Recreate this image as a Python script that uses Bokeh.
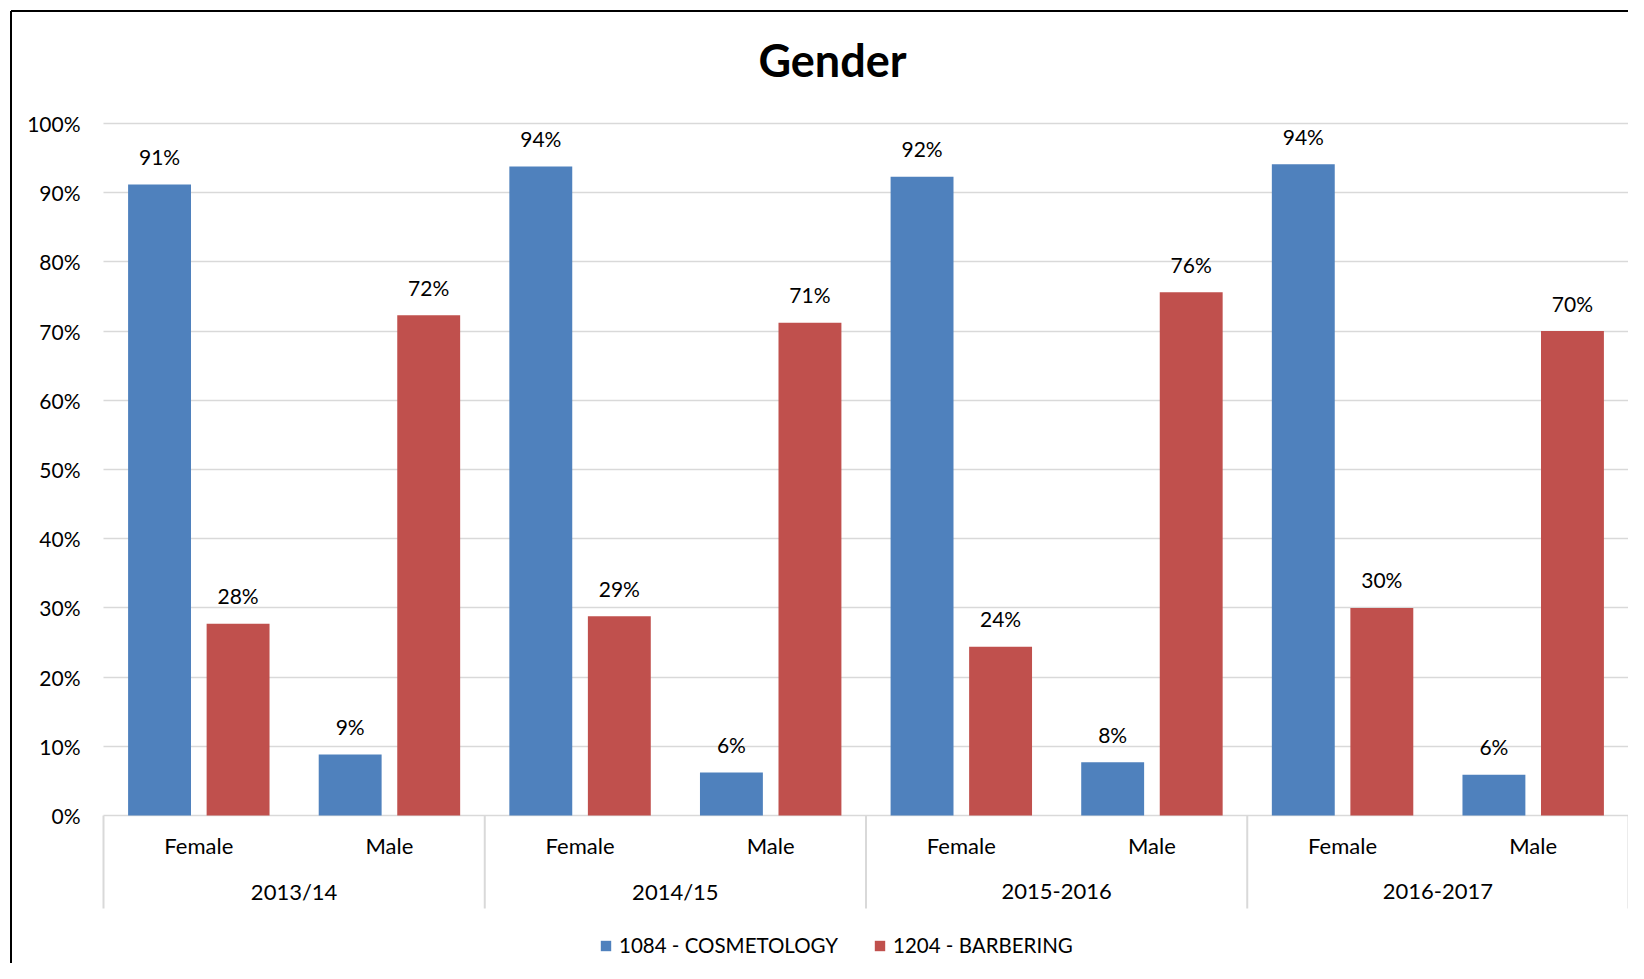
from bokeh.plotting import figure
from bokeh.models import (ColumnDataSource, Range1d, LinearAxis, FixedTicker,
                          NumeralTickFormatter, Grid, Legend, LegendItem, Label)
from bokeh.core.properties import value
from bokeh.embed import file_html
from bokeh.resources import INLINE

# ---------------- data ----------------
title_text = "Gender"
years = ["2013/14", "2014/15", "2015-2016", "2016-2017"]
genders = ["Female", "Male"]
series_names = ["1084 - COSMETOLOGY", "1204 - BARBERING"]
cosmetology = [0.912, 0.088, 0.938, 0.062, 0.923, 0.077, 0.941, 0.059]
barbering = [0.277, 0.723, 0.288, 0.712, 0.244, 0.756, 0.300, 0.700]
y_ticks = [0.0, 0.1, 0.2, 0.3, 0.4, 0.5, 0.6, 0.7, 0.8, 0.9, 1.0]

# ---------------- style / layout ----------------
colors = ["#4F81BD", "#C0504D"]
FONT = "Lato"
FS = "21px"
FS_CAT = "22px"
GRID_COLOR = "#D9D9D9"

W, H = 1628, 963
X0_PX, X1_PX = 103, 1628     # canvas px of first / last category boundary
Y0_PX, Y100_PX = 815, 123    # canvas px of 0% / 100%

n_slots = len(years) * len(genders)
x_unit = (X1_PX - X0_PX) / n_slots
y_unit = (Y0_PX - Y100_PX) / 1.0


def xd(px):
    return (px - X0_PX) / x_unit


def yd(px):
    return (Y0_PX - px) / y_unit


BAR_W = 0.33
OFFSET = 0.206

slot_year = [y for y in years for g in genders]
slot_gender = [g for y in years for g in genders]
slot_center = [i + 0.5 for i in range(n_slots)]
group_center = [sum(slot_center[i * len(genders):(i + 1) * len(genders)]) / len(genders)
                for i in range(len(years))]
boundaries = [i * len(genders) for i in range(len(years) + 1)]

p = figure(width=W, height=H, title=None,
           x_range=Range1d(xd(0), xd(W)), y_range=Range1d(yd(H), yd(0)),
           output_backend="svg", toolbar_location=None,
           x_axis_location=None, y_axis_location=None,
           min_border=0, outline_line_color=None,
           background_fill_color="white", border_fill_color="white")
p.min_border_left = 0
p.min_border_right = 0
p.min_border_top = 0
p.min_border_bottom = 0
# drop the default grids
p.renderers = [r for r in p.renderers if not isinstance(r, Grid)]
p.center = [r for r in p.center if not isinstance(r, Grid)]

# gridlines (0% .. 100%)
yticker = FixedTicker(ticks=y_ticks)
if "cross_bounds" in Grid.properties():
    grid = Grid(dimension=1, ticker=yticker, grid_line_color=GRID_COLOR, grid_line_width=1.5)
    grid.cross_bounds = (0, n_slots)
    p.add_layout(grid)
else:
    p.segment(x0=[0] * len(y_ticks), x1=[n_slots] * len(y_ticks), y0=y_ticks, y1=y_ticks,
              line_color=GRID_COLOR, line_width=1.5, level="underlay")

# y axis
yaxis = LinearAxis(ticker=yticker, formatter=NumeralTickFormatter(format="0%"),
                   fixed_location=0,
                   axis_line_color=None, major_tick_line_color=None, minor_tick_line_color=None,
                   major_tick_out=0, major_tick_in=0, minor_tick_out=0, minor_tick_in=0,
                   major_label_standoff=23,
                   major_label_text_font=FONT, major_label_text_font_size=FS,
                   major_label_text_color="black")
p.add_layout(yaxis, "left")

src = ColumnDataSource(dict(
    x=slot_center, year=slot_year, gender=slot_gender,
    cos=cosmetology, bar=barbering,
    cos_x=[c - OFFSET for c in slot_center],
    bar_x=[c + OFFSET for c in slot_center],
    cos_lbl=[f"{round(v * 100)}%" for v in cosmetology],
    bar_lbl=[f"{round(v * 100)}%" for v in barbering],
))

r1 = p.vbar(x="cos_x", top="cos", bottom=0, width=BAR_W, source=src,
            fill_color=colors[0], line_color=None)
r2 = p.vbar(x="bar_x", top="bar", bottom=0, width=BAR_W, source=src,
            fill_color=colors[1], line_color=None)

# data labels
for xcol, ycol, tcol in [("cos_x", "cos", "cos_lbl"), ("bar_x", "bar", "bar_lbl")]:
    p.text(x=xcol, y=ycol, text=tcol, source=src, text_align="center",
           text_baseline="alphabetic", y_offset=-28,
           text_font=value(FONT), text_font_size=value(FS), text_color="black")

# category axis (drawn below 0%)
p.text(x="x", y=0, text="gender", source=src, text_align="center",
       text_baseline="alphabetic", y_offset=30,
       text_font=value(FONT), text_font_size=value(FS_CAT), text_color="black")
p.text(x=group_center, y=[0] * len(years), text=years, text_align="center",
       text_baseline="alphabetic", y_offset=76,
       text_font=value(FONT), text_font_size=value(FS_CAT), text_color="black")
p.segment(x0=boundaries, x1=boundaries, y0=[0] * len(boundaries),
          y1=[yd(Y0_PX + 93)] * len(boundaries), line_color=GRID_COLOR, line_width=2)

# chart border (left and top)
p.segment(x0=[xd(10.5), xd(10.5)], y0=[yd(10.5), yd(10.5)],
          x1=[xd(10.5), xd(W)], y1=[yd(H), yd(10.5)],
          line_color="black", line_width=2)

# title
p.add_layout(Label(x=xd(832), y=yd(59), text=title_text, text_align="center",
                   text_baseline="alphabetic", text_font=FONT, text_font_size="45px",
                   text_font_style="bold", text_color="black"))

# legend
legend = Legend(items=[LegendItem(label=series_names[0], renderers=[r1]),
                       LegendItem(label=series_names[1], renderers=[r2])],
                orientation="horizontal", location=(599, 6),
                glyph_width=13, glyph_height=13, label_standoff=7, spacing=35,
                padding=0, margin=0, border_line_color=None, background_fill_alpha=0,
                label_text_font=FONT, label_text_font_size="20.5px", label_text_color="black")
p.add_layout(legend)

open("out.html", "w").write(file_html(p, INLINE))
